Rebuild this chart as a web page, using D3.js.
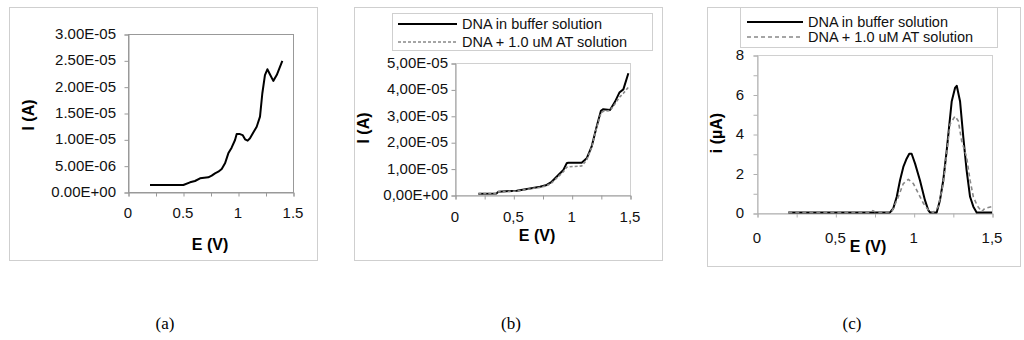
<!DOCTYPE html>
<html><head><meta charset="utf-8">
<script src="https://cdn.jsdelivr.net/npm/d3@7"></script>
<style>
body{margin:0;background:#fff;}
text{font-family:"Liberation Sans",Arial,sans-serif;}
text.cap{font-family:"Liberation Serif","Times New Roman",serif;}
</style></head>
<body><svg id="c" width="1024" height="340"></svg>
<script>
// ---- Data ----
// Panel (a)
const aE = [0.2,0.503,0.564,0.609,0.655,0.73,0.761,0.791,0.821,0.852,0.882,0.912,0.942,0.973,0.988,1.018,1.042,1.064,1.088,1.109,1.139,1.17,1.2,1.221,1.245,1.267,1.291,1.321,1.352,1.403];
const aI = [1.33e-6,1.33e-6,1.84e-6,2.09e-6,2.6e-6,2.78e-6,3.1e-6,3.54e-6,3.86e-6,4.37e-6,5.44e-6,7.34e-6,8.42e-6,9.87e-6,1.10e-5,1.10e-5,1.08e-5,1.0e-5,9.75e-6,1.02e-5,1.13e-5,1.24e-5,1.43e-5,1.87e-5,2.22e-5,2.33e-5,2.23e-5,2.11e-5,2.22e-5,2.49e-5];
// Panel (b)
const bE1 = [0.2,0.357,0.371,0.529,0.643,0.729,0.786,0.829,0.886,0.929,0.957,0.971,1.086,1.129,1.171,1.214,1.251,1.271,1.329,1.371,1.409,1.443,1.486];
const bI1 = [0.5e-6,0.6e-6,1.25e-6,1.6e-6,2.5e-6,3.1e-6,3.8e-6,5.0e-6,7.6e-6,9.5e-6,1.2e-5,1.22e-5,1.22e-5,1.39e-5,1.83e-5,2.59e-5,3.19e-5,3.25e-5,3.22e-5,3.53e-5,3.88e-5,4.0e-5,4.61e-5];
const bE2 = [0.2,0.357,0.371,0.529,0.643,0.729,0.786,0.829,0.886,0.929,0.957,0.985,1.086,1.129,1.171,1.214,1.251,1.271,1.329,1.371,1.409,1.443,1.486];
const bI2 = [0.5e-6,0.6e-6,1.2e-6,1.5e-6,2.3e-6,2.9e-6,3.5e-6,4.6e-6,7.0e-6,8.8e-6,1.05e-5,1.07e-5,1.1e-5,1.33e-5,1.8e-5,2.55e-5,3.1e-5,3.17e-5,3.2e-5,3.45e-5,3.7e-5,3.85e-5,4.08e-5];
// Panel (c)
const cE1 = [0.2,0.849,0.87,0.892,0.913,0.934,0.955,0.972,0.987,1.009,1.04,1.072,1.093,1.104,1.147,1.168,1.189,1.211,1.228,1.243,1.264,1.275,1.296,1.317,1.338,1.36,1.381,1.402,1.5];
const cI1 = [0.03,0.03,0.24,0.82,1.66,2.33,2.75,3.0,3.0,2.5,1.66,0.65,0.15,0.03,0.03,0.65,1.66,3.17,4.5,5.66,6.33,6.44,5.66,3.83,2.16,0.82,0.32,0.03,0.03];
const cE2 = [0.2,0.72,0.74,0.76,0.86,0.902,0.934,0.966,0.998,1.03,1.062,1.093,1.125,1.157,1.189,1.211,1.232,1.264,1.285,1.306,1.338,1.36,1.381,1.406,1.434,1.455,1.498];
const cI2 = [0.03,0.03,0.12,0.03,0.05,0.82,1.49,1.7,1.49,0.99,0.49,0.15,0.03,0.32,1.49,3.0,4.5,4.9,4.66,3.66,2.83,1.66,0.82,0.37,0.07,0.24,0.32];

// Ticks
const aXTicks = [0,0.5,1,1.5], aXLabels = ["0","0.5","1","1.5"];
const bXLabels = ["0","0,5","1","1,5"];
const xMinor = [0,0.25,0.5,0.75,1,1.25,1.5];
const aYTicks = [0,5e-6,1e-5,1.5e-5,2e-5,2.5e-5,3e-5];
const aYLabels = ["0.00E+00","5.00E-06","1.00E-05","1.50E-05","2.00E-05","2.50E-05","3.00E-05"];
const bYTicks = [0,1e-5,2e-5,3e-5,4e-5,5e-5];
const bYLabels = ["0,00E+00","1,00E-05","2,00E-05","3,00E-05","4,00E-05","5,00E-05"];
const cYTicks = [0,2,4,6,8], cYLabels = ["0","2","4","6","8"];
const cYMinor = [0,1,2,3,4,5,6,7,8];
const legendLabelsB = ["DNA in buffer solution","DNA + 1.0 uM AT solution"];
const legendLabelsC = ["DNA in buffer solution","DNA + 1.0 uM AT solution"];
const captions = ["(a)","(b)","(c)"];

const svg = d3.select("#c");

function panel(cfg){
  const g = svg.append("g");
  g.append("rect").attr("x",cfg.box[0]+0.5).attr("y",cfg.box[1]+0.5)
    .attr("width",cfg.box[2]-cfg.box[0]).attr("height",cfg.box[3]-cfg.box[1])
    .attr("fill","none").attr("stroke","#cfcfcf");
  const x = d3.scaleLinear().domain([0,1.5]).range([cfg.pl,cfg.pr]);
  const y = d3.scaleLinear().domain(cfg.yDom).range([cfg.pb,cfg.pt]);
  g.append("rect").attr("x",cfg.pl+0.5).attr("y",cfg.pt+0.5)
    .attr("width",cfg.pr-cfg.pl).attr("height",cfg.pb-cfg.pt)
    .attr("fill","none").attr("stroke",cfg.frame);
  const xa = g.append("g").attr("transform",`translate(0.5,${cfg.pb+0.5})`)
    .call(d3.axisBottom(x).tickValues(xMinor).tickSize(4).tickFormat(""));
  xa.select(".domain").attr("stroke",cfg.axis);
  xa.selectAll(".tick line").attr("stroke",cfg.axis);
  g.selectAll(null).data(cfg.xTicks).enter().append("text")
    .attr("x",(d)=>x(d)).attr("y",cfg.xLabY).attr("text-anchor","middle")
    .attr("font-size",15).attr("fill","#111").text((d,i)=>cfg.xLabels[i]);
  const ya = g.append("g").attr("transform",`translate(${cfg.pl+0.5},0.5)`)
    .call(d3.axisLeft(y).tickValues(cfg.yMinor||cfg.yTicks).tickSize(4).tickFormat(""));
  ya.select(".domain").attr("stroke",cfg.axis);
  ya.selectAll(".tick line").attr("stroke",cfg.axis);
  g.selectAll(null).data(cfg.yTicks).enter().append("text")
    .attr("x",cfg.yLabX).attr("y",(d)=>y(d)+5).attr("text-anchor","end")
    .attr("font-size",15).attr("fill","#111").text((d,i)=>cfg.yLabels[i]);
  g.append("text").attr("x",cfg.xtX).attr("y",cfg.xtY).attr("text-anchor","middle")
    .attr("font-size",16).attr("font-weight","bold").text("E (V)");
  g.append("text").attr("transform",`translate(${cfg.ytX},${cfg.ytY}) rotate(-90)`)
    .attr("text-anchor","middle").attr("font-size",16).attr("font-weight","bold").text(cfg.yTitle);
  const line = d3.line().x(d=>x(d[0])).y(d=>y(d[1]));
  cfg.series.forEach(s=>{
    g.append("path").datum(d3.zip(s.e,s.v)).attr("d",line)
      .attr("fill","none").attr("stroke",s.color).attr("stroke-width",s.w)
      .attr("stroke-dasharray",s.dash||null).attr("stroke-linejoin","round");
  });
  if(cfg.legend){
    const L = cfg.legend;
    g.append("rect").attr("x",L.box[0]+0.5).attr("y",L.box[1]+0.5)
      .attr("width",L.box[2]-L.box[0]).attr("height",L.box[3]-L.box[1])
      .attr("fill","#fff").attr("stroke","#cfcfcf");
    L.labels.forEach((t,i)=>{
      const s = cfg.series[i];
      g.append("line").attr("x1",L.lx1).attr("x2",L.lx2).attr("y1",L.ly[i]).attr("y2",L.ly[i])
        .attr("stroke",s.color).attr("stroke-width",s.w).attr("stroke-dasharray",s.dash||null);
      g.append("text").attr("x",L.tx).attr("y",L.ly[i]+5).attr("font-size",14.5).attr("fill","#111").text(t);
    });
  }
}

panel({box:[9,7,317,260], pl:128,pr:293,pt:34,pb:192, yDom:[0,3e-5], frame:"#999", axis:"#999",
  xTicks:aXTicks, xLabels:aXLabels, xLabY:218, yTicks:aYTicks, yLabels:aYLabels, yLabX:116,
  xtX:210, xtY:250, ytX:34, ytY:115, yTitle:"I (A)",
  series:[{e:aE,v:aI,color:"#000",w:2}]});

panel({box:[354,7,662,260], pl:455,pr:630,pt:63,pb:195, yDom:[0,5e-5], frame:"#d0d0d0", axis:"#9a9a9a",
  xTicks:aXTicks, xLabels:bXLabels, xLabY:222, yTicks:bYTicks, yLabels:bYLabels, yLabX:448,
  xtX:537, xtY:241, ytX:369, ytY:128, yTitle:"I (A)",
  series:[{e:bE1,v:bI1,color:"#000",w:2},{e:bE2,v:bI2,color:"#888",w:1.6,dash:"3,2"}],
  legend:{box:[392,13,652,50], lx1:398, lx2:457, tx:462, ly:[24,42], labels:legendLabelsB}});

panel({box:[707,7,1020,266], pl:757,pr:992,pt:55,pb:213, yDom:[0,8], frame:"#d0d0d0", axis:"#b0b0b0",
  xTicks:aXTicks, xLabels:bXLabels, xLabY:243, yTicks:cYTicks, yLabels:cYLabels, yMinor:cYMinor, yLabX:744,
  xtX:868, xtY:252, ytX:722, ytY:133, yTitle:"i (µA)",
  series:[{e:cE1,v:cI1,color:"#000",w:2},{e:cE2,v:cI2,color:"#888",w:1.6,dash:"4,3"}],
  legend:{box:[740,7,997,47], lx1:747, lx2:803, tx:808, ly:[22,37], labels:legendLabelsC}});

const capX = [165,511,852];
svg.selectAll(null).data(captions).enter().append("text").attr("class","cap")
  .attr("x",(d,i)=>capX[i]).attr("y",329).attr("text-anchor","middle")
  .attr("font-size",17).text(d=>d);
</script></body></html>
